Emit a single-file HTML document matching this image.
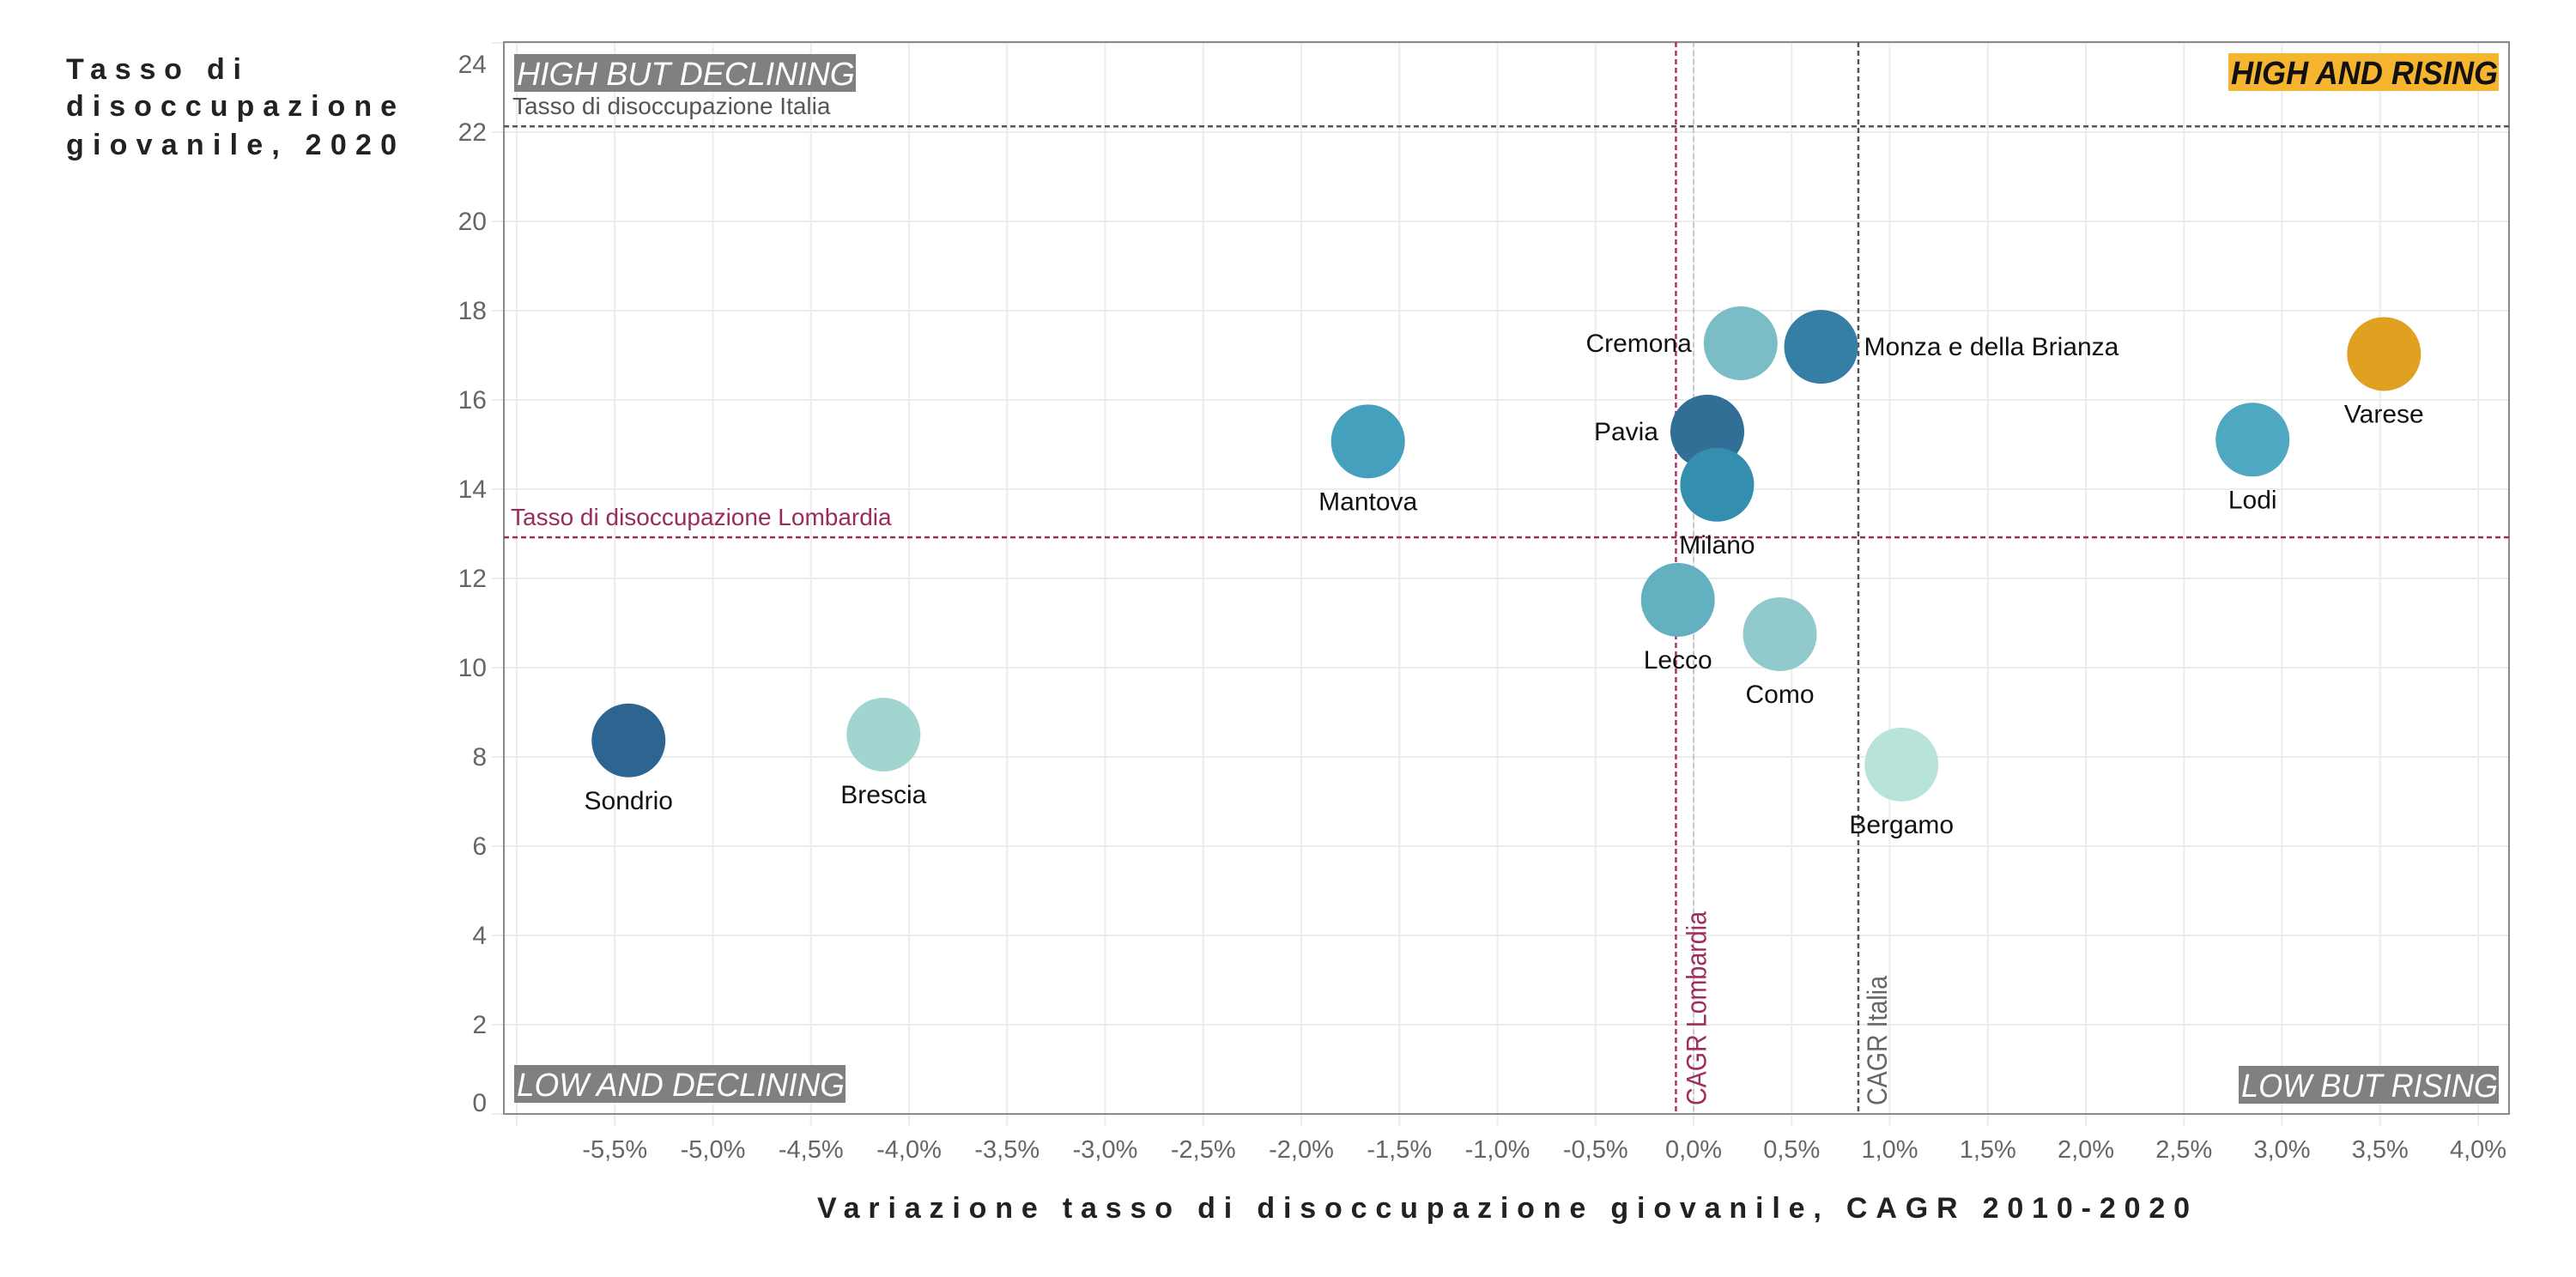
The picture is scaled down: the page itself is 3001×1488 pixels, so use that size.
<!DOCTYPE html>
<html><head><meta charset="utf-8">
<style>
html,body{margin:0;padding:0;background:#fff;}
svg{display:block;}
text{font-family:"Liberation Sans",sans-serif;}
</style></head>
<body>
<svg id="chart" width="3001" height="1488" viewBox="0 0 3001 1488" xmlns="http://www.w3.org/2000/svg">
<g id="grid"></g>
<rect x="587" y="49" width="2336" height="1249" fill="none" stroke="#8a8a8a" stroke-width="2"/>
<g id="refs"></g>
<g id="quad"></g>
<g id="points"></g>
<g id="xticks"></g>
<g id="yticks"></g>
<g font-weight="bold" font-size="34" fill="#222">
<text x="77" y="92" textLength="204" lengthAdjust="spacing">Tasso di</text>
<text x="77" y="135" textLength="385" lengthAdjust="spacing">disoccupazione</text>
<text x="77" y="180" textLength="385" lengthAdjust="spacing">giovanile, 2020</text>
</g>
<text x="952" y="1419" font-weight="bold" font-size="34" fill="#222" textLength="1599" lengthAdjust="spacing">Variazione tasso di disoccupazione giovanile, CAGR 2010-2020</text>
</svg>
<script>
const provinces = ["Sondrio","Brescia","Mantova","Pavia","Milano","Cremona","Monza e della Brianza","Lecco","Como","Bergamo","Lodi","Varese"];
const cagrValues = [-5.43,-4.13,-1.66,0.07,0.12,0.24,0.65,-0.08,0.44,1.06,2.85,3.52];
const rateValues = [8.37,8.5,15.07,15.29,14.1,17.27,17.19,11.52,10.75,7.83,15.11,17.03];
const pointColors = ["#2e6590","#a3d5d0","#45a0bd","#316f96","#348faf","#7bbdc6","#347fa3","#62b0c0","#90cacd","#b8e3da","#4da8c0","#e0a020"];
const labelPos = ["below","below","below","left","below","left","right","below","below","below","below","below"];
const xTickValues = [-5.5,-5,-4.5,-4,-3.5,-3,-2.5,-2,-1.5,-1,-0.5,0,0.5,1,1.5,2,2.5,3,3.5,4];
const xGridValues = [-6,-5.5,-5,-4.5,-4,-3.5,-3,-2.5,-2,-1.5,-1,-0.5,0,0.5,1,1.5,2,2.5,3,3.5,4];
const yTickValues = [0,2,4,6,8,10,12,14,16,18,20,22,24];
const refRateItalia = [22.13];
const refRateLombardia = [12.92];
const refCagrItalia = [0.84];
const refCagrLombardia = [-0.09];

const NS = "http://www.w3.org/2000/svg";
function xs(v){return 1973 + v*228.5;}
function ys(v){return 1298 - v*52;}
function mk(tag, attrs, parent){const e=document.createElementNS(NS,tag);for(const k in attrs)e.setAttribute(k,attrs[k]);parent.appendChild(e);return e;}
const fmt = v => v.toFixed(1).replace(".",",")+"%";

const grid=document.getElementById("grid");
xGridValues.forEach(v=>{
  const l=mk("line",{x1:xs(v),x2:xs(v),y1:49,y2:1312,stroke:"#ececec","stroke-width":2},grid);
  
  
});
yTickValues.forEach(v=>{
  const l=mk("line",{x1:573,x2:2923,y1:ys(v),y2:ys(v),stroke:"#ececec","stroke-width":2},grid);
  
  
});
const zl=mk("line",{x1:xs(0),x2:xs(0),y1:49,y2:1298,stroke:"#c8c8c8","stroke-width":2,"stroke-dasharray":"6 4"},grid);



const refs=document.getElementById("refs");
let e;
e=mk("line",{x1:587,x2:2923,y1:ys(refRateItalia[0]),y2:ys(refRateItalia[0]),stroke:"#555","stroke-width":2.5,"stroke-dasharray":"6 4"},refs);


e=mk("text",{x:597,y:ys(refRateItalia[0])-14,"font-size":28,fill:"#555"},refs);e.textContent="Tasso di disoccupazione Italia";


e=mk("line",{x1:587,x2:2923,y1:ys(refRateLombardia[0]),y2:ys(refRateLombardia[0]),stroke:"#9b2a5e","stroke-width":2.5,"stroke-dasharray":"6 4"},refs);


e=mk("text",{x:595,y:ys(refRateLombardia[0])-14,"font-size":28,fill:"#9b2a5e"},refs);e.textContent="Tasso di disoccupazione Lombardia";


e=mk("line",{x1:xs(refCagrLombardia[0]),x2:xs(refCagrLombardia[0]),y1:49,y2:1298,stroke:"#b0306a","stroke-width":2.5,"stroke-dasharray":"6 4"},refs);


e=mk("text",{x:0,y:0,"font-size":32,fill:"#a02c60",textLength:226,lengthAdjust:"spacingAndGlyphs",transform:`translate(${xs(refCagrLombardia[0])+35},1288) rotate(-90)`},refs);e.textContent="CAGR Lombardia";


e=mk("line",{x1:xs(refCagrItalia[0]),x2:xs(refCagrItalia[0]),y1:49,y2:1298,stroke:"#555","stroke-width":2.5,"stroke-dasharray":"6 4"},refs);


e=mk("text",{x:0,y:0,"font-size":32,fill:"#666",textLength:151,lengthAdjust:"spacingAndGlyphs",transform:`translate(${xs(refCagrItalia[0])+33},1288) rotate(-90)`},refs);e.textContent="CAGR Italia";



const quad=document.getElementById("quad");
function qbox(x,y,w,txt,bg,fg,bold,name){
  const r=mk("rect",{x:x,y:y,width:w,height:44,fill:bg},quad);
  
  
  const t=mk("text",{x:x+3,y:y+36,"font-size":38,"font-style":"italic","font-weight":bold?"bold":"normal",fill:fg,textLength:w-4,lengthAdjust:"spacingAndGlyphs"},quad);
  t.textContent=txt;
  
  
}
qbox(599,63,398,"HIGH BUT DECLINING","#808080","#fff",false,"high-but-declining-label");
qbox(2596,62,315,"HIGH AND RISING","#f5b52e","#111",true,"high-and-rising-label");
qbox(599,1241,386,"LOW AND DECLINING","#808080","#fff",false,"low-and-declining-label");
qbox(2608,1242,303,"LOW BUT RISING","#808080","#fff",false,"low-but-rising-label");

const pts=document.getElementById("points");
provinces.forEach((p,i)=>{
  const cx=xs(cagrValues[i]), cy=ys(rateValues[i]);
  const c=mk("circle",{cx:cx,cy:cy,r:43,fill:pointColors[i]},pts);
  
  
});
provinces.forEach((p,i)=>{
  const cx=xs(cagrValues[i]), cy=ys(rateValues[i]);
  let a={"font-size":30,fill:"#111"};
  if(labelPos[i]==="below"){a.x=cx;a.y=cy+80;a["text-anchor"]="middle";}
  else if(labelPos[i]==="left"){a.x=cx-57;a.y=cy+10;a["text-anchor"]="end";}
  else {a.x=cx+50;a.y=cy+10;a["text-anchor"]="start";}
  const t=mk("text",a,pts);t.textContent=p;
  
  
});

const xt=document.getElementById("xticks");
xTickValues.forEach(v=>{
  const t=mk("text",{x:xs(v),y:1349,"font-size":29,fill:"#666","text-anchor":"middle"},xt);
  t.textContent=fmt(v);
  
  
});
const yt=document.getElementById("yticks");
yTickValues.forEach(v=>{
  const t=mk("text",{x:567,y:ys(v)+(v===24?35:v===0?-3:10)*(v===24||v===0?1:1),"font-size":30,fill:"#666","text-anchor":"end"},yt);
  t.textContent=v;
  
  
});
</script>
</body></html>
